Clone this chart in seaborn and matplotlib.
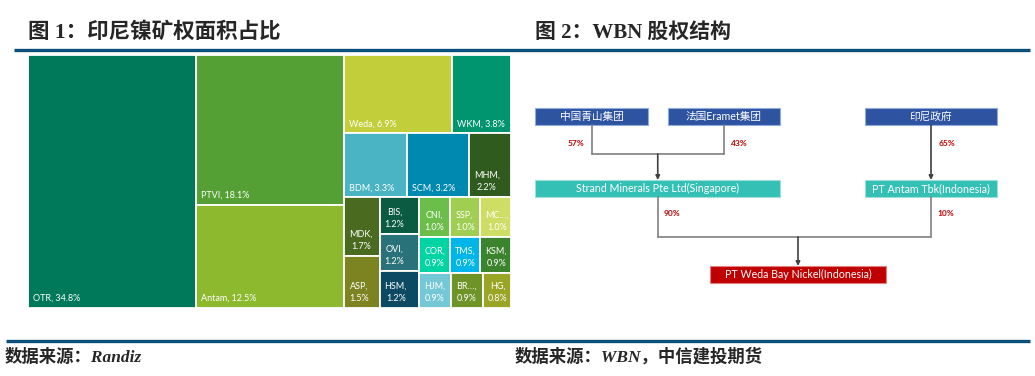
import matplotlib
matplotlib.use("Agg")
import matplotlib.pyplot as plt
import seaborn as sns
from matplotlib.patches import Rectangle

sns.set_theme(style="white")
plt.rcParams['font.family'] = ['Lato', 'Noto Sans CJK SC', 'DejaVu Sans']

# ---- 图1 数据：印尼镍矿权面积占比 (%) ----
names = ["OTR", "PTVI", "Antam", "Weda", "WKM", "BDM", "SCM", "MHM", "MDK", "ASP",
         "BIS", "OVI", "HSM", "CNI", "SSP", "MC…", "COR", "TMS", "KSM", "HJM", "BR…", "HG"]
shares = [34.8, 18.1, 12.5, 6.9, 3.8, 3.3, 3.2, 2.2, 1.7, 1.5,
          1.2, 1.2, 1.2, 1.0, 1.0, 1.0, 0.9, 0.9, 0.9, 0.9, 0.9, 0.8]
tile_colors = ["#00785A", "#55A035", "#8CB92D", "#C3CF3A", "#00956F", "#4AB4C5",
               "#0089B0", "#2F5B1E", "#4A6B1F", "#7B8420", "#0B5B43", "#2A7279",
               "#0B4A62", "#6BBE4A", "#9FCE52", "#CEDD63", "#00D4A3", "#00B5E8",
               "#3B832C", "#74C8D5", "#6E9327", "#99A625"]
# strips of the treemap: orientation and number of tiles in each strip
strips = [("v", 1), ("v", 2), ("h", 2), ("h", 3), ("v", 2), ("v", 3),
          ("h", 3), ("h", 3), ("h", 3)]

# ---- 图2 数据：WBN 股权结构 ----
owners = ["中国青山集团", "法国Eramet集团", "印尼政府"]
owner_stakes = ["57%", "43%", "65%"]
holders = ["Strand Minerals Pte Ltd(Singapore)", "PT Antam Tbk(Indonesia)"]
holder_stakes = ["90%", "10%"]
target = "PT Weda Bay Nickel(Indonesia)"
owner_to_holder = [0, 0, 1]


def strip_layout(values, strips, W, H):
    rects = []
    x0, y0, w, h = 0.0, 0.0, W, H
    i = 0
    for orient, n in strips:
        group = values[i:i + n]
        frac = sum(group) / sum(values[i:])
        if orient == "v":
            sw = w * frac
            yy = y0
            for v in group:
                hh = h * v / sum(group)
                rects.append((x0, yy, sw, hh))
                yy += hh
            x0 += sw
            w -= sw
        else:
            sh = h * frac
            xx = x0
            for v in group:
                ww = w * v / sum(group)
                rects.append((xx, y0, ww, sh))
                xx += ww
            y0 += sh
            h -= sh
        i += n
    return rects


W, H = 1035, 376
fig = plt.figure(figsize=(W / 100, H / 100), dpi=100)

# full-figure axes in pixel units for headers and the ownership chart
ax0 = fig.add_axes([0, 0, 1, 1])
ax0.set_xlim(0, W)
ax0.set_ylim(H, 0)
ax0.axis("off")

title_font = ['Liberation Serif', 'Noto Sans CJK SC']
ax0.text(28, 33, "图 1：印尼镍矿权面积占比", fontsize=15.5, fontweight="bold",
         family=title_font, va="center", ha="left")
ax0.text(535, 33, "图 2：WBN 股权结构", fontsize=15, fontweight="bold",
         family=title_font, va="center", ha="left")
ax0.plot([14, 1030], [50, 50], color="#0B4F7C", lw=2.4, solid_capstyle="butt")
ax0.plot([6, 1030], [341, 341], color="#0B4F7C", lw=2.4, solid_capstyle="butt")
ax0.text(5, 357, "数据来源：Randiz", fontsize=12.5, style="italic", fontweight="bold",
         family=title_font, va="center", ha="left")
ax0.text(515, 357, "数据来源：WBN，中信建投期货", fontsize=12.5, style="italic",
         fontweight="bold", family=title_font, va="center", ha="left")

# ---- treemap ----
tx0, ty0, tw, th = 28, 55, 483, 253
ax1 = fig.add_axes([tx0 / W, 1 - (ty0 + th) / H, tw / W, th / H])
rects = strip_layout(shares, strips, tw, th)
xs = [r[0] for r in rects]
ys = [r[1] for r in rects]
ws = [r[2] for r in rects]
hs = [r[3] for r in rects]
ax1.bar(xs, hs, width=ws, bottom=ys, align="edge", color=tile_colors,
        edgecolor="white", linewidth=1.3)
for (x, y, w, h), name, s in zip(rects, names, shares):
    if w > 55:
        label = f"{name}, {s:.1f}%"
    else:
        label = f"{name},\n{s:.1f}%"
    ax1.text(x + 5, y + h - 5, label, color="white", fontsize=6.5,
             ha="left", va="bottom", multialignment="center", linespacing=1.5)
ax1.set_xlim(0, tw)
ax1.set_ylim(th, 0)
ax1.axis("off")

# ---- ownership chart ----
owner_boxes = [(535, 108, 648, 125), (668, 108, 780, 125), (865, 108, 997, 125)]
holder_boxes = [(535, 180, 780, 197), (865, 180, 997, 197)]
target_box = (710, 266, 886, 283)
join1, join2 = 154, 237
line_kw = dict(color="#7F7F7F", lw=1.2)
stake_kw = dict(color="#C00000", fontsize=6, fontweight="bold", ha="center", va="center")


def draw_box(b, text, face, edge):
    ax0.add_patch(Rectangle((b[0], b[1]), b[2] - b[0], b[3] - b[1],
                            facecolor=face, edgecolor=edge, lw=0.8))
    ax0.text((b[0] + b[2]) / 2, (b[1] + b[3]) / 2, text, color="white",
             fontsize=7.7, ha="center", va="center")


def arrow_down(x, y_from, y_to):
    ax0.annotate("", xy=(x, y_to), xytext=(x, y_from),
                 arrowprops=dict(arrowstyle="-|>", color="#404040", lw=1.2,
                                 mutation_scale=6, shrinkA=0, shrinkB=0))


def cx(b):
    return (b[0] + b[2]) / 2


for hi, hb in enumerate(holder_boxes):
    idx = [i for i, h in enumerate(owner_to_holder) if h == hi]
    px = [cx(owner_boxes[i]) for i in idx]
    if len(idx) > 1:
        for i in idx:
            b = owner_boxes[i]
            ax0.plot([cx(b), cx(b)], [b[3], join1], **line_kw)
        ax0.plot([min(px), max(px)], [join1, join1], **line_kw)
        arrow_down(sum(px) / len(px), join1, hb[1])
    else:
        arrow_down(px[0], owner_boxes[idx[0]][3], hb[1])

stake_pos = [(-16, 143), (15, 143), (16, 143)]
for b, s, (dx, y) in zip(owner_boxes, owner_stakes, stake_pos):
    ax0.text(cx(b) + dx, y, s, **stake_kw)

hx = [cx(b) for b in holder_boxes]
for b in holder_boxes:
    ax0.plot([cx(b), cx(b)], [b[3], join2], **line_kw)
ax0.plot([min(hx), max(hx)], [join2, join2], **line_kw)
arrow_down(cx(target_box), join2, target_box[1])
for b, s in zip(holder_boxes, holder_stakes):
    ax0.text(cx(b) + 15, 214, s, **stake_kw)

for b, t in zip(owner_boxes, owners):
    draw_box(b, t, "#2E54A1", "#8FAADC")
for b, t in zip(holder_boxes, holders):
    draw_box(b, t, "#35C0B5", "#9EDFD9")
draw_box(target_box, target, "#C00000", "#E58080")

fig.savefig("out.png", dpi=100)
